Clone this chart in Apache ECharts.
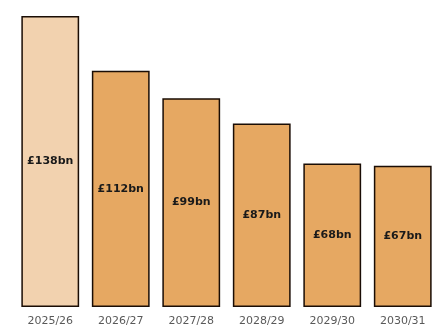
<!DOCTYPE html>
<html>
<head>
<meta charset="utf-8">
<script src="https://cdn.jsdelivr.net/npm/echarts@6/dist/echarts.min.js"></script>
<style>
  html, body { margin: 0; padding: 0; background: #fff; }
  #chart { width: 438px; height: 333px; }
</style>
</head>
<body>
<div id="chart"></div>
<script>
// Financial years and the amounts for each (£bn)
const years = ['2025/26', '2026/27', '2027/28', '2028/29', '2029/30', '2030/31'];
const amounts = [138, 112, 99, 87, 68, 67];
const barColors = ['#F2D2AF', '#E6A862', '#E6A862', '#E6A862', '#E6A862', '#E6A862'];

const chart = echarts.init(document.getElementById('chart'), null, { renderer: 'canvas' });

chart.setOption({
  animation: false,
  grid: { left: 15, right: 0, top: 16, bottom: 26 },
  xAxis: {
    type: 'category',
    data: years,
    axisLine: { show: false },
    axisTick: { show: false },
    axisLabel: {
      color: '#595959',
      fontFamily: 'DejaVu Sans',
      fontSize: 11,
      margin: 9
    }
  },
  yAxis: {
    type: 'value',
    min: 0,
    max: 138,
    show: false,
    splitLine: { show: false }
  },
  series: [{
    type: 'bar',
    barWidth: '82%',
    data: amounts.map((v, i) => ({
      value: v,
      itemStyle: { color: barColors[i] }
    })),
    itemStyle: { borderColor: '#1a0d05', borderWidth: 1.5 },
    label: {
      show: true,
      position: 'inside',
      formatter: p => '£' + p.value + 'bn',
      color: '#1a1a1a',
      fontFamily: 'DejaVu Sans',
      fontWeight: 'bold',
      fontSize: 11
    }
  }]
});
</script>
</body>
</html>
